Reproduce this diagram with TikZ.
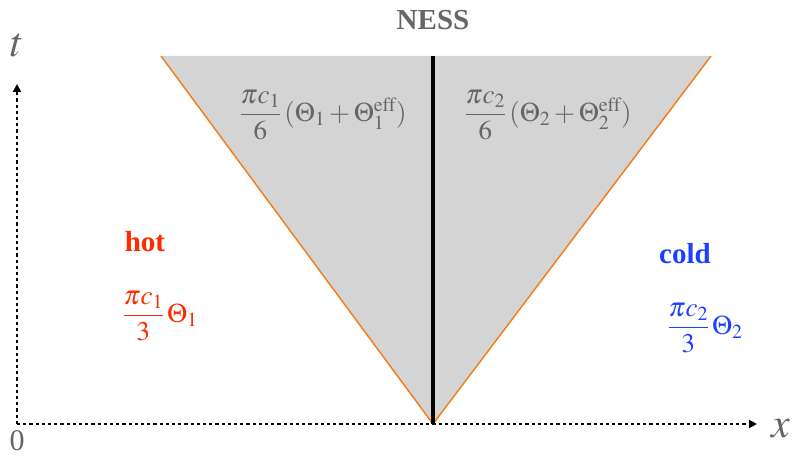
\documentclass[tikz,border=0pt]{standalone}
\usepackage{amsmath}
\usepackage{mathptmx}
\usepackage{fontspec}
\setmainfont{Liberation Serif}
\usetikzlibrary{arrows.meta}
\definecolor{hotred}{HTML}{FF2A00}
\definecolor{coldblue}{HTML}{1F3FFF}
\definecolor{txtgray}{HTML}{666666}
\definecolor{conegray}{HTML}{D4D4D4}
\definecolor{edgeorange}{HTML}{F08020}
\tikzset{
  axis/.style={line width=2pt, dash pattern=on 3.2pt off 3pt, -{Triangle[length=8pt,width=8pt]}},
  edge/.style={edgeorange, line width=1.5pt},
  lbl/.style={inner sep=0pt, font=\fontsize{27}{30}\selectfont},
}
\begin{document}
\begin{tikzpicture}[x=1pt,y=-1pt]
\useasboundingbox (0,0) rectangle (793,457);
\coordinate (O) at (17,424);
\coordinate (Xend) at (757,424);
\coordinate (Yend) at (17,84);
\coordinate (A) at (433,424);
\coordinate (L) at (161,56);
\coordinate (R) at (711,56);
\coordinate (T) at (433,56);
\fill[conegray] (L) -- (A) -- (R) -- cycle;
\draw[edge] (L) -- (A) -- (R);
\draw[line width=3.2pt] (T) -- (A);
\draw[axis] (O) -- (Xend);
\draw[axis] (O) -- (Yend);
\node[lbl, text=txtgray, font=\fontsize{29}{32}\selectfont\bfseries] (ness) at (433,20) {NESS};
\node[lbl, text=txtgray, font=\fontsize{42}{44}\selectfont] (t) at (17,45) {$t$};
\node[lbl, text=txtgray, font=\fontsize{42}{44}\selectfont] (x) at (781,429) {$x$};
\node[lbl, text=txtgray, font=\fontsize{30}{32}\selectfont] (zero) at (17,441) {0};
\node[lbl, text=hotred, font=\fontsize{29}{32}\selectfont\bfseries] (hot) at (145,242) {hot};
\node[lbl, text=hotred] (hf) at (160,316) {$\dfrac{\pi c_1}{3}\,\Theta_1$};
\node[lbl, text=coldblue, font=\fontsize{29}{32}\selectfont\bfseries] (cold) at (685,254) {cold};
\node[lbl, text=coldblue] (cf) at (705,328) {$\dfrac{\pi c_2}{3}\,\Theta_2$};
\node[lbl, text=txtgray] (lf) at (323,115) {$\dfrac{\pi c_1}{6}\,(\Theta_1+\Theta_1^{\mathrm{eff}})$};
\node[lbl, text=txtgray] (rf) at (548,115) {$\dfrac{\pi c_2}{6}\,(\Theta_2+\Theta_2^{\mathrm{eff}})$};
\end{tikzpicture}
\end{document}
